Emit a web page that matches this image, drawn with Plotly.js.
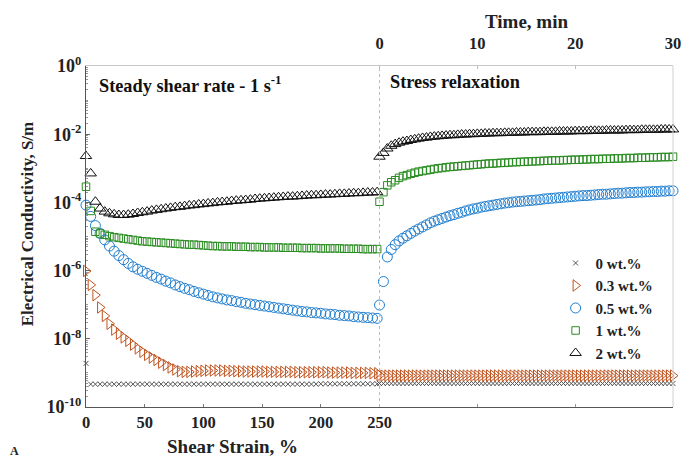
<!DOCTYPE html>
<html><head><meta charset="utf-8">
<script src="https://cdn.plot.ly/plotly-3.0.1.min.js"></script>
<style>html,body{margin:0;padding:0;background:#fff}#chart{width:682px;height:458px}</style>
</head><body><div id="chart"></div>
<script>
// Shear strain samples (%) - steady shear stage
const strain = [0,4,8,12,16,20,24,28,32,36,40,44,48,52,56,60,64,68,72,76,80,84,88,92,96,100,104,108,112,116,120,124,128,132,136,140,144,148,152,156,160,164,168,172,176,180,184,188,192,196,200,204,208,212,216,220,224,228,232,236,240,244,248];
// Time samples (min) - stress relaxation stage
const time = [0,0.4,0.8,1.2,1.6,2,2.4,2.8,3.2,3.6,4,4.4,4.8,5.2,5.6,6,6.4,6.8,7.2,7.6,8,8.4,8.8,9.2,9.6,10,10.4,10.8,11.2,11.6,12,12.4,12.8,13.2,13.6,14,14.4,14.8,15.2,15.6,16,16.4,16.8,17.2,17.6,18,18.4,18.8,19.2,19.6,20,20.4,20.8,21.2,21.6,22,22.4,22.8,23.2,23.6,24,24.4,24.8,25.2,25.6,26,26.4,26.8,27.2,27.6,28,28.4,28.8,29.2,29.6,30];

const seriesNames = ['0 wt.%','0.3 wt.%','0.5 wt.%','1 wt.%','2 wt.%'];

// log10 of electrical conductivity (S/m)
const log_0wt_shear = [-8.72,-9.33,-9.33,-9.33,-9.33,-9.33,-9.33,-9.33,-9.33,-9.33,-9.33,-9.33,-9.33,-9.33,-9.33,-9.33,-9.33,-9.33,-9.33,-9.33,-9.33,-9.33,-9.33,-9.33,-9.33,-9.33,-9.33,-9.33,-9.33,-9.33,-9.33,-9.33,-9.33,-9.33,-9.33,-9.33,-9.33,-9.33,-9.33,-9.33,-9.33,-9.33,-9.33,-9.33,-9.33,-9.33,-9.33,-9.33,-9.33,-9.33,-9.32,-9.32,-9.32,-9.32,-9.32,-9.32,-9.32,-9.32,-9.32,-9.32,-9.32,-9.32,-9.32];
const log_0wt_relax = [-9.31,-9.31,-9.31,-9.31,-9.31,-9.31,-9.31,-9.31,-9.31,-9.31,-9.31,-9.31,-9.31,-9.31,-9.31,-9.31,-9.31,-9.31,-9.31,-9.31,-9.31,-9.31,-9.31,-9.31,-9.31,-9.31,-9.31,-9.31,-9.31,-9.31,-9.31,-9.31,-9.31,-9.31,-9.31,-9.31,-9.31,-9.31,-9.31,-9.31,-9.31,-9.31,-9.31,-9.31,-9.31,-9.31,-9.31,-9.31,-9.31,-9.31,-9.31,-9.31,-9.31,-9.31,-9.31,-9.31,-9.31,-9.31,-9.31,-9.31,-9.31,-9.31,-9.31,-9.31,-9.31,-9.31,-9.31,-9.31,-9.31,-9.31,-9.31,-9.31,-9.31,-9.31,-9.31,-9.31];

const log_03wt_shear = [-6.01,-6.42,-6.72,-7.08,-7.33,-7.56,-7.73,-7.85,-7.96,-8.06,-8.17,-8.28,-8.38,-8.47,-8.55,-8.62,-8.70,-8.77,-8.84,-8.90,-8.95,-8.97,-8.97,-8.96,-8.95,-8.94,-8.93,-8.93,-8.93,-8.93,-8.94,-8.94,-8.95,-8.95,-8.96,-8.96,-8.96,-8.96,-8.96,-8.97,-8.97,-8.97,-8.97,-8.97,-8.97,-8.98,-8.98,-8.98,-8.98,-8.98,-8.98,-8.98,-8.99,-8.99,-8.99,-8.99,-8.99,-9.00,-9.00,-9.00,-9.00,-9.01,-9.01];
const log_03wt_relax = [-9.07,-9.08,-9.08,-9.08,-9.08,-9.08,-9.08,-9.08,-9.08,-9.08,-9.08,-9.08,-9.08,-9.08,-9.08,-9.08,-9.08,-9.08,-9.08,-9.08,-9.08,-9.08,-9.08,-9.08,-9.08,-9.08,-9.08,-9.08,-9.08,-9.08,-9.08,-9.08,-9.08,-9.08,-9.08,-9.08,-9.08,-9.08,-9.08,-9.08,-9.08,-9.08,-9.08,-9.08,-9.08,-9.08,-9.08,-9.08,-9.08,-9.08,-9.08,-9.08,-9.08,-9.08,-9.08,-9.08,-9.08,-9.08,-9.08,-9.08,-9.08,-9.08,-9.08,-9.08,-9.08,-9.08,-9.08,-9.08,-9.08,-9.08,-9.08,-9.08,-9.08,-9.08,-9.08,-9.08];

const log_05wt_shear = [-4.08,-4.41,-4.68,-4.91,-5.10,-5.28,-5.43,-5.56,-5.68,-5.79,-5.89,-5.96,-6.02,-6.08,-6.14,-6.20,-6.25,-6.31,-6.36,-6.42,-6.47,-6.52,-6.56,-6.61,-6.65,-6.69,-6.73,-6.77,-6.80,-6.83,-6.86,-6.88,-6.91,-6.93,-6.96,-6.98,-7.00,-7.02,-7.04,-7.06,-7.08,-7.10,-7.12,-7.14,-7.16,-7.18,-7.20,-7.21,-7.23,-7.24,-7.25,-7.27,-7.28,-7.29,-7.31,-7.32,-7.33,-7.35,-7.36,-7.37,-7.38,-7.39,-7.40];
const log_05wt_relax = [-7.01,-6.32,-5.60,-5.38,-5.24,-5.13,-5.05,-4.98,-4.91,-4.84,-4.78,-4.72,-4.66,-4.60,-4.55,-4.51,-4.47,-4.43,-4.39,-4.36,-4.32,-4.29,-4.25,-4.22,-4.19,-4.17,-4.14,-4.12,-4.10,-4.08,-4.06,-4.04,-4.02,-4.01,-3.99,-3.98,-3.97,-3.96,-3.95,-3.94,-3.93,-3.92,-3.90,-3.89,-3.88,-3.87,-3.86,-3.85,-3.84,-3.83,-3.82,-3.81,-3.80,-3.80,-3.79,-3.78,-3.77,-3.76,-3.76,-3.75,-3.74,-3.73,-3.73,-3.72,-3.71,-3.71,-3.70,-3.70,-3.69,-3.69,-3.68,-3.68,-3.67,-3.67,-3.66,-3.66];

const log_1wt_shear = [-3.54,-4.25,-4.86,-4.91,-4.95,-4.99,-5.02,-5.04,-5.06,-5.08,-5.10,-5.12,-5.14,-5.15,-5.16,-5.17,-5.18,-5.19,-5.20,-5.21,-5.22,-5.23,-5.24,-5.24,-5.25,-5.26,-5.27,-5.28,-5.28,-5.29,-5.29,-5.29,-5.30,-5.30,-5.30,-5.31,-5.31,-5.31,-5.32,-5.32,-5.32,-5.32,-5.33,-5.33,-5.33,-5.33,-5.34,-5.34,-5.34,-5.34,-5.35,-5.35,-5.35,-5.35,-5.35,-5.36,-5.36,-5.36,-5.36,-5.37,-5.37,-5.37,-5.37];
const log_1wt_relax = [-3.98,-3.70,-3.50,-3.41,-3.35,-3.28,-3.23,-3.20,-3.16,-3.13,-3.10,-3.08,-3.06,-3.04,-3.02,-3.00,-2.99,-2.97,-2.96,-2.95,-2.94,-2.93,-2.92,-2.91,-2.90,-2.89,-2.88,-2.87,-2.86,-2.86,-2.85,-2.84,-2.84,-2.83,-2.82,-2.82,-2.81,-2.81,-2.80,-2.80,-2.79,-2.79,-2.78,-2.78,-2.77,-2.77,-2.77,-2.76,-2.76,-2.75,-2.75,-2.75,-2.74,-2.74,-2.73,-2.73,-2.73,-2.72,-2.72,-2.72,-2.71,-2.71,-2.71,-2.70,-2.70,-2.70,-2.69,-2.69,-2.69,-2.68,-2.68,-2.68,-2.67,-2.67,-2.67,-2.66];

const log_2wt_shear = [-2.64,-3.15,-3.98,-4.18,-4.27,-4.32,-4.35,-4.37,-4.37,-4.36,-4.34,-4.31,-4.29,-4.27,-4.24,-4.22,-4.20,-4.18,-4.16,-4.14,-4.13,-4.11,-4.09,-4.08,-4.06,-4.05,-4.03,-4.02,-4.00,-3.99,-3.98,-3.96,-3.95,-3.94,-3.93,-3.92,-3.90,-3.89,-3.88,-3.87,-3.86,-3.85,-3.84,-3.83,-3.83,-3.82,-3.81,-3.80,-3.79,-3.79,-3.78,-3.77,-3.77,-3.76,-3.75,-3.75,-3.74,-3.73,-3.73,-3.72,-3.71,-3.71,-3.70];
const log_2wt_relax = [-2.66,-2.55,-2.42,-2.34,-2.29,-2.25,-2.22,-2.20,-2.17,-2.15,-2.13,-2.11,-2.10,-2.08,-2.07,-2.06,-2.05,-2.04,-2.03,-2.03,-2.02,-2.01,-2.01,-2.00,-2.00,-1.99,-1.99,-1.98,-1.98,-1.97,-1.97,-1.97,-1.96,-1.96,-1.96,-1.95,-1.95,-1.95,-1.94,-1.94,-1.94,-1.94,-1.93,-1.93,-1.93,-1.93,-1.92,-1.92,-1.92,-1.92,-1.91,-1.91,-1.91,-1.91,-1.90,-1.90,-1.90,-1.90,-1.89,-1.89,-1.89,-1.89,-1.89,-1.88,-1.88,-1.88,-1.88,-1.87,-1.87,-1.87,-1.87,-1.87,-1.86,-1.86,-1.86,-1.86];

const yTickVals = [1e-10,1e-8,1e-6,1e-4,1e-2,1];
const yTickText = ['10<sup>-10</sup>','10<sup>-8</sup>','10<sup>-6</sup>','10<sup>-4</sup>','10<sup>-2</sup>','10<sup>0</sup>'];
const strainTicks = [0,50,100,150,200,250];
const timeTicks = [0,10,20,30];

const FONT = '"Liberation Serif", "DejaVu Serif", serif';
const toLin = a => a.map(v => Math.pow(10, v));
const tickFont = {family: FONT, size: 16.5, color: '#222', weight: 'bold'};

const styles = [
  {sym:'x-thin-open', color:'#555555', size:5, lw:1},
  {sym:'triangle-right-open', color:'#c0531e', size:10, lw:1},
  {sym:'circle-open', color:'#1f7ed0', size:10, lw:1},
  {sym:'square-open', color:'#2a8c22', size:7.5, lw:1},
  {sym:'triangle-up-open', color:'#111111', size:10, lw:1}
];
const shearData = [log_0wt_shear, log_03wt_shear, log_05wt_shear, log_1wt_shear, log_2wt_shear];
const relaxData = [log_0wt_relax, log_03wt_relax, log_05wt_relax, log_1wt_relax, log_2wt_relax];

const traces = [];
for (let i = 0; i < 5; i++) {
  const st = styles[i];
  const marker = {symbol: st.sym, size: st.size, color: st.color, line: {color: st.color, width: st.lw}};
  traces.push({x: strain, y: toLin(shearData[i]), xaxis:'x', yaxis:'y', type:'scatter', mode:'markers',
    name: seriesNames[i], legendgroup: 'g'+i, showlegend: true, marker: marker, cliponaxis:false});
  traces.push({x: time, y: toLin(relaxData[i]), xaxis:'x2', yaxis:'y', type:'scatter', mode:'markers',
    name: seriesNames[i], legendgroup: 'g'+i, showlegend: false, marker: marker, cliponaxis:false});
}
// invisible helper so the bottom time-tick axis is drawn
traces.push({x: [timeTicks[1]], y: [yTickVals[0]], xaxis:'x3', yaxis:'y', type:'scatter', mode:'markers',
  marker: {opacity: 0}, showlegend: false, hoverinfo: 'skip'});

const layout = {
  width: 682, height: 458,
  margin: {l: 86, r: 9, t: 66, b: 51},
  paper_bgcolor: '#fff', plot_bgcolor: '#fff',
  font: {family: FONT, color: '#222', size: 14, weight: 'bold'},
  showlegend: true,
  legend: {x: 0.80, y: 0.47, xanchor: 'left', yanchor: 'top', bgcolor: 'rgba(0,0,0,0)',
    font: {family: FONT, size: 15, color: '#222', weight: 'bold'}, traceorder: 'normal', itemsizing: 'trace'},
  xaxis: {range: [0, 500], tickmode: 'array', tickvals: strainTicks,
    ticks: 'inside', ticklen: 3, tickcolor: '#777', showline: true, linecolor: '#555', linewidth: 1,
    showgrid: false, zeroline: false, tickfont: tickFont},
  xaxis2: {overlaying: 'x', side: 'top', range: [-30, 30], tickmode: 'array', tickvals: timeTicks,
    ticks: 'inside', ticklen: 3, tickcolor: '#bbb', showline: true, linecolor: '#c8c8c8', linewidth: 1,
    ticklabelstandoff: 9,
    showgrid: false, zeroline: false, tickfont: tickFont},
  xaxis3: {overlaying: 'x', side: 'bottom', range: [-30, 30], tickmode: 'array', tickvals: [10, 20],
    ticks: 'inside', ticklen: 3, tickcolor: '#999', showline: false, showticklabels: false,
    showgrid: false, zeroline: false},
  yaxis: {type: 'log', range: [-10, 0], tickmode: 'array', tickvals: yTickVals, ticktext: yTickText,
    ticks: 'inside', ticklen: 4, tickcolor: '#666', showline: true, linecolor: '#555', linewidth: 1,
    showgrid: false, zeroline: false,
    minor: {ticks: 'inside', ticklen: 2, tickcolor: '#999', dtick: 'D1', showgrid: false},
    tickfont: {family: FONT, size: 18, color: '#222', weight: 'bold'}},
  shapes: [
    {type: 'line', xref: 'x', yref: 'paper', x0: 250, x1: 250, y0: 0, y1: 1, line: {color: '#bbbbbb', width: 1, dash: 'dot'}},
    {type: 'line', xref: 'paper', yref: 'paper', x0: 1, x1: 1, y0: 0, y1: 1, line: {color: '#d0d0d0', width: 1}}
  ],
  annotations: [
    {text: 'Steady shear rate - 1 s<sup>-1</sup>', xref: 'paper', yref: 'paper', x: 0.018, y: 0.945, xanchor: 'left', yanchor: 'middle', showarrow: false, font: {family: FONT, size: 18.3, color: '#111', weight: 'bold'}},
    {text: 'Stress relaxation', xref: 'paper', yref: 'paper', x: 0.515, y: 0.953, xanchor: 'left', yanchor: 'middle', showarrow: false, font: {family: FONT, size: 18.3, color: '#111', weight: 'bold'}},
    {text: 'Shear Strain, %', xref: 'paper', yref: 'paper', x: 0.25, y: -0.117, xanchor: 'center', yanchor: 'middle', showarrow: false, font: {family: FONT, size: 19, color: '#222', weight: 'bold'}},
    {text: 'Time, min', xref: 'paper', yref: 'paper', x: 0.75, y: 1.13, xanchor: 'center', yanchor: 'middle', showarrow: false, font: {family: FONT, size: 19, color: '#222', weight: 'bold'}},
    {text: 'Electrical Conductivity, S/m', xref: 'paper', yref: 'paper', x: -0.1005, y: 0.536, xanchor: 'center', yanchor: 'middle', textangle: -90, showarrow: false, font: {family: FONT, size: 17, color: '#222', weight: 'bold'}},
    {text: 'A', xref: 'paper', yref: 'paper', x: -0.122, y: -0.13, xanchor: 'center', yanchor: 'middle', showarrow: false, font: {family: FONT, size: 12, color: '#222', weight: 'bold'}}
  ]
};

Plotly.newPlot('chart', traces, layout, {displayModeBar: false, staticPlot: true});
</script></body></html>
